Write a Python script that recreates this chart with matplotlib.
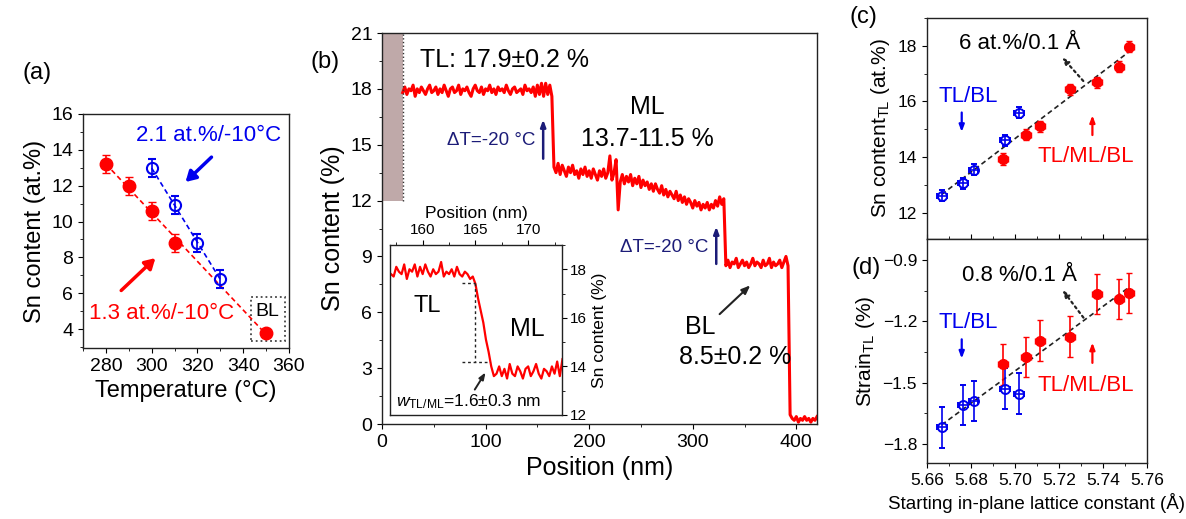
import matplotlib.pyplot as plt
import numpy as np
from matplotlib.patches import Rectangle
from matplotlib.ticker import MultipleLocator

plt.rcParams['font.family'] = ['Liberation Sans', 'DejaVu Sans']
plt.rcParams['mathtext.fontset'] = 'custom'
plt.rcParams['mathtext.rm'] = 'Liberation Sans'
plt.rcParams['mathtext.it'] = 'Liberation Sans:italic'
plt.rcParams['xtick.labelsize'] = 13
plt.rcParams['ytick.labelsize'] = 13

# ---- panel (a): Sn content vs growth temperature
temp_red = [280, 290, 300, 310, 350]
sn_red = [13.2, 12.0, 10.6, 8.8, 3.8]
err_red = [0.5, 0.5, 0.5, 0.5, 0.0]
temp_blue = [300, 310, 320, 330]
sn_blue = [13.0, 10.9, 8.8, 6.8]
err_blue = [0.5, 0.5, 0.5, 0.5]

# ---- panel (b): EDX line profile (2 nm steps per segment)
tl_vals = [17.8, 18.1, 17.7, 18.0, 17.9, 18.2, 17.6, 18.0, 17.8, 18.1, 17.9, 17.7, 18.0, 18.2,
           17.8, 17.9, 18.1, 17.7, 18.0, 17.8, 18.2, 17.9, 17.6, 18.0, 18.1, 17.8, 17.9, 18.2,
           17.7, 18.0, 17.9, 18.1, 17.8, 17.6, 18.0, 18.2, 17.9, 17.8, 18.1, 17.7, 18.0, 17.9,
           18.2, 17.8, 18.0, 17.7, 18.1, 17.9, 18.0, 17.8, 18.2, 17.9, 17.7, 18.0, 18.1, 17.8,
           17.9, 18.0, 17.7, 18.2, 17.9, 18.0, 17.8, 18.1, 17.6, 18.2, 17.7, 18.3, 17.6, 18.3,
           17.7, 18.2, 17.6]
ml_vals = [13.8, 13.5, 14.0, 13.4, 13.9, 13.6, 13.3, 13.8, 13.5, 13.9, 13.4, 13.6, 13.2, 13.7,
           13.4, 13.8, 13.3, 13.6, 13.2, 13.7, 13.4, 13.1, 13.6, 13.3, 13.7, 13.2, 13.5, 14.4,
           13.1, 13.5, 14.2, 11.5, 13.0, 13.4, 12.9, 13.3, 13.0, 13.4, 12.8, 13.2, 12.9, 13.3,
           12.7, 13.1, 12.8, 13.0, 12.6, 12.9, 12.5, 12.9, 12.6, 12.4, 12.8, 12.3, 12.6, 12.2,
           12.5, 12.3, 12.1, 12.5, 12.0, 12.3, 11.9, 12.2, 11.8, 12.1, 11.9, 11.6, 12.0, 11.7,
           11.9, 11.5, 11.8, 11.6, 11.9, 11.5, 11.8, 11.6, 12.0, 11.7, 12.2, 11.8, 12.1]
bl_vals = [8.5, 8.8, 8.4, 8.7, 8.6, 8.9, 8.4, 8.6, 8.8, 8.5, 8.7, 8.4, 8.6, 8.9, 8.5, 8.7,
           8.6, 8.4, 8.8, 8.5, 8.6, 8.9, 8.4, 8.7, 8.5, 8.6, 8.8, 8.4, 8.7, 9.0, 8.5]
sub_vals = [0.5, 0.3, 0.2, 0.4, 0.1, 0.3, 0.2, 0.4, 0.2, 0.3, 0.1, 0.3, 0.2, 0.4]
seg_start = [20, 166, 332, 394]

# inset: zoom on the TL/ML interface (0.25 nm steps from 157 nm)
inset_vals = [17.8, 17.7, 18.1, 17.9, 17.8, 18.2, 17.6, 18.0, 17.9, 18.2, 17.7, 18.1, 17.8, 18.2,
              17.9, 17.7, 18.0, 17.8, 17.9, 18.3, 17.7, 17.9, 17.8, 18.0, 17.7, 18.1, 17.8, 17.7,
              17.9, 17.8, 17.6, 17.7,
              17.4, 16.8, 16.3, 15.8, 15.1, 14.6, 14.0, 13.6,
              13.7, 14.0, 13.6, 13.9, 13.5, 14.1, 13.7, 13.6, 14.0, 13.8, 13.5, 13.9, 14.0, 13.6,
              13.8, 14.1, 13.7, 13.5, 13.9, 13.8, 13.6, 14.0, 13.7, 14.2, 13.6, 14.3]

# ---- panels (c), (d)
a_blue = [5.6668, 5.6764, 5.6813, 5.6956, 5.7018]
sn_tl_blue = [12.6, 13.05, 13.55, 14.6, 15.6]
strain_blue = [-1.72, -1.61, -1.59, -1.53, -1.555]
a_red = [5.6946, 5.7051, 5.7115, 5.7250, 5.7373, 5.7476, 5.7521]
sn_tl_red = [13.93, 14.8, 15.1, 16.44, 16.69, 17.25, 17.97]
strain_red = [-1.41, -1.375, -1.295, -1.275, -1.065, -1.09, -1.06]
a_err = 0.0022

RED = '#ff0000'
BLUE = '#0000ee'
NAVY = '#1c1c78'

fig = plt.figure(figsize=(11.86, 5.19), dpi=100)


def box(ax):
    for s in ax.spines.values():
        s.set_linewidth(1.0)
        s.set_color('#222222')


# ================= (a)
ax = fig.add_axes([0.070, 0.3295, 0.1737, 0.4509])
box(ax)
p = np.polyfit(temp_red, sn_red, 1)
xs = np.array([min(temp_red), max(temp_red)])
ax.plot(xs, np.polyval(p, xs), ls=(0, (3, 2)), color=RED, lw=1.2)
p = np.polyfit(temp_blue, sn_blue, 1)
xs = np.array([min(temp_blue), max(temp_blue)])
ax.plot(xs, np.polyval(p, xs), ls=(0, (3, 2)), color=BLUE, lw=1.2)
ax.errorbar(temp_red, sn_red, yerr=err_red, fmt='o', color=RED, ms=9, capsize=3, elinewidth=1.2, zorder=3)
ax.errorbar(temp_blue, sn_blue, yerr=err_blue, fmt='o', color=BLUE, mfc='none', mew=1.5, ms=8,
            capsize=3, elinewidth=1.2, zorder=3)
ax.add_patch(Rectangle((343.2, 3.32), 15.0, 2.46, fill=False, ls=':', lw=1.3, ec='#444444'))
ax.text(350.7, 5.0, 'BL', ha='center', va='center', fontsize=14)
ax.text(324.8, 14.8, '2.1 at.%/-10°C', color=BLUE, ha='center', va='center', fontsize=16)
ax.annotate('', xy=(313.9, 12.1), xytext=(327, 13.7),
            arrowprops=dict(arrowstyle='-|>,head_length=0.6,head_width=0.35', color=BLUE, lw=2.5))
ax.text(304.2, 4.9, '1.3 at.%/-10°C', color=RED, ha='center', va='center', fontsize=16)
ax.annotate('', xy=(302.5, 8.07), xytext=(285.8, 6.05),
            arrowprops=dict(arrowstyle='-|>,head_length=0.6,head_width=0.35', color=RED, lw=2.5))
ax.set_xlim(270, 360)
ax.set_ylim(2.95, 16)
ax.xaxis.set_major_locator(MultipleLocator(20))
ax.xaxis.set_minor_locator(MultipleLocator(10))
ax.yaxis.set_major_locator(MultipleLocator(2))
ax.yaxis.set_minor_locator(MultipleLocator(1))
ax.tick_params(labelsize=14)
ax.set_xlabel('Temperature (°C)', fontsize=17)
ax.set_ylabel('Sn content (at.%)', fontsize=17)

# ================= (b)
ax = fig.add_axes([0.3221, 0.183, 0.3668, 0.7534])
box(ax)
segs = [tl_vals, ml_vals, bl_vals, sub_vals]
pos = np.concatenate([s0 + 2 * np.arange(len(v)) for s0, v in zip(seg_start, segs)])
val = np.concatenate(segs)
ax.plot(pos, val, color=RED, lw=2.2)
ax.add_patch(Rectangle((0, 12), 20, 9, color='#bfa9a9', lw=0, zorder=0))
ax.plot([20, 20], [12, 21], ls=':', color='#333333', lw=1)
ax.text(37, 19.55, 'TL: 17.9±0.2 %', ha='left', va='center', fontsize=18)
ax.text(256, 17.0, 'ML', ha='center', va='center', fontsize=18)
ax.text(256, 15.3, '13.7-11.5 %', ha='center', va='center', fontsize=18)
ax.text(148, 15.25, 'ΔT=-20 °C', color=NAVY, ha='right', va='center', fontsize=13.5)
ax.annotate('', xy=(155.6, 16.5), xytext=(155.6, 14.1),
            arrowprops=dict(arrowstyle='-|>,head_length=0.4,head_width=0.15', color=NAVY, lw=1.8))
ax.text(315, 9.5, 'ΔT=-20 °C', color=NAVY, ha='right', va='center', fontsize=13.5)
ax.annotate('', xy=(322.7, 10.75), xytext=(322.7, 8.45),
            arrowprops=dict(arrowstyle='-|>,head_length=0.4,head_width=0.15', color=NAVY, lw=1.8))
ax.text(307, 5.2, 'BL', ha='center', va='center', fontsize=18)
ax.text(341, 3.6, '8.5±0.2 %', ha='center', va='center', fontsize=18)
ax.annotate('', xy=(357.5, 7.55), xytext=(324, 5.8),
            arrowprops=dict(arrowstyle='-|>,head_length=0.5,head_width=0.2', color='#222222', lw=1.5))
ax.set_xlim(0, 420)
ax.set_ylim(0, 21)
ax.xaxis.set_major_locator(MultipleLocator(100))
ax.xaxis.set_minor_locator(MultipleLocator(50))
ax.yaxis.set_major_locator(MultipleLocator(3))
ax.yaxis.set_minor_locator(MultipleLocator(1.5))
ax.tick_params(labelsize=14)
ax.set_xlabel('Position (nm)', fontsize=18)
ax.set_ylabel('Sn content (%)', fontsize=18)

# inset
ai = fig.add_axes([0.3288, 0.2004, 0.145, 0.3276])
box(ai)
ai.set_facecolor('white')
ipos = 157 + 0.25 * np.arange(len(inset_vals))
ai.plot(ipos, inset_vals, color=RED, lw=1.6)
ai.plot([163.7, 165.0], [17.45, 17.45], ls=(0, (2, 2)), color='#222222', lw=1)
ai.plot([165.0, 165.0], [17.45, 14.2], ls=(0, (2, 2)), color='#222222', lw=1)
ai.plot([163.7, 166.4], [14.2, 14.2], ls=(0, (2, 2)), color='#222222', lw=1)
ai.annotate('', xy=(166.1, 13.85), xytext=(164.8, 12.95),
            arrowprops=dict(arrowstyle='-|>,head_length=0.4,head_width=0.15', color='#222222', lw=1.4))
ai.text(160.4, 16.5, 'TL', ha='center', va='center', fontsize=17)
ai.text(169.9, 15.55, 'ML', ha='center', va='center', fontsize=18)
ai.text(157.5, 12.55, r'$w_{\rm TL/ML}$=1.6±0.3 nm', ha='left', va='center', fontsize=12.5)
ai.set_xlim(156.9, 173.2)
ai.set_ylim(12, 19)
ai.xaxis.tick_top()
ai.xaxis.set_label_position('top')
ai.yaxis.tick_right()
ai.yaxis.set_label_position('right')
ai.xaxis.set_major_locator(MultipleLocator(5))
ai.xaxis.set_minor_locator(MultipleLocator(2.5))
ai.yaxis.set_major_locator(MultipleLocator(2))
ai.yaxis.set_minor_locator(MultipleLocator(1))
ai.tick_params(labelsize=11, pad=2)
ai.set_xlabel('Position (nm)', fontsize=12.5, labelpad=4)
ai.set_ylabel('Sn content (%)', fontsize=12.5, labelpad=4)

# ================= (c)
a_all = np.array(a_blue + a_red)
xs = np.array([a_all.min(), a_all.max()])

ac = fig.add_axes([0.7814, 0.5395, 0.1855, 0.4258])
box(ac)
p = np.polyfit(a_all, sn_tl_blue + sn_tl_red, 1)
ac.plot(xs, np.polyval(p, xs), ls=(0, (3, 2)), color='#222222', lw=1.2)
ac.errorbar(a_red, sn_tl_red, xerr=a_err, yerr=0.2, fmt='o', color=RED, ms=7, capsize=2.5, elinewidth=1.2, zorder=3)
ac.errorbar(a_blue, sn_tl_blue, xerr=a_err, yerr=0.2, fmt='o', color=BLUE, mfc='none', mew=1.4, ms=6.5,
            capsize=2.5, elinewidth=1.2, zorder=3)
ac.text(5.702, 18.1, '6 at.%/0.1 Å', ha='center', va='center', fontsize=16)
ac.annotate('', xy=(5.7206, 17.67), xytext=(5.732, 16.66),
            arrowprops=dict(arrowstyle='-|>,head_length=0.4,head_width=0.15', color='#222222', lw=1.6, ls=':'))
ac.text(5.6788, 16.18, 'TL/BL', color=BLUE, ha='center', va='center', fontsize=16)
ac.annotate('', xy=(5.6759, 14.8), xytext=(5.6759, 15.7),
            arrowprops=dict(arrowstyle='-|>,head_length=0.4,head_width=0.15', color=BLUE, lw=1.6))
ac.text(5.7323, 14.03, 'TL/ML/BL', color=RED, ha='center', va='center', fontsize=16)
ac.annotate('', xy=(5.7353, 15.6), xytext=(5.7353, 14.69),
            arrowprops=dict(arrowstyle='-|>,head_length=0.4,head_width=0.15', color=RED, lw=1.6))
ac.set_xlim(5.66, 5.76)
ac.set_ylim(11.05, 19)
ac.xaxis.set_major_locator(MultipleLocator(0.02))
ac.xaxis.set_minor_locator(MultipleLocator(0.01))
ac.yaxis.set_major_locator(MultipleLocator(2))
ac.yaxis.set_minor_locator(MultipleLocator(1))
ac.tick_params(axis='x', which='both', direction='in', labelbottom=False)
ac.tick_params(axis='y', labelsize=12.5)
ac.set_ylabel(r'Sn content$_{\rm TL}$ (at.%)', fontsize=15)

# ================= (d)
ad = fig.add_axes([0.7814, 0.1079, 0.1855, 0.4316])
box(ad)
p = np.polyfit(a_all, strain_blue + strain_red, 1)
ad.plot(xs, np.polyval(p, xs), ls=(0, (3, 2)), color='#222222', lw=1.2)
ad.errorbar(a_red, strain_red, xerr=a_err, yerr=0.1, fmt='o', color=RED, ms=7, capsize=2.5, elinewidth=1.2, zorder=3)
ad.errorbar(a_blue, strain_blue, xerr=a_err, yerr=0.1, fmt='o', color=BLUE, mfc='none', mew=1.4, ms=6.5,
            capsize=2.5, elinewidth=1.2, zorder=3)
ad.text(5.702, -0.974, '0.8 %/0.1 Å', ha='center', va='center', fontsize=16)
ad.annotate('', xy=(5.7209, -1.034), xytext=(5.732, -1.192),
            arrowprops=dict(arrowstyle='-|>,head_length=0.4,head_width=0.15', color='#222222', lw=1.6, ls=':'))
ad.text(5.6788, -1.204, 'TL/BL', color=BLUE, ha='center', va='center', fontsize=16)
ad.annotate('', xy=(5.6759, -1.396), xytext=(5.6759, -1.274),
            arrowprops=dict(arrowstyle='-|>,head_length=0.4,head_width=0.15', color=BLUE, lw=1.6))
ad.text(5.7323, -1.516, 'TL/ML/BL', color=RED, ha='center', va='center', fontsize=16)
ad.annotate('', xy=(5.7353, -1.29), xytext=(5.7353, -1.417),
            arrowprops=dict(arrowstyle='-|>,head_length=0.4,head_width=0.15', color=RED, lw=1.6))
ad.set_xlim(5.66, 5.76)
ad.set_ylim(-1.895, -0.795)
ad.xaxis.set_major_locator(MultipleLocator(0.02))
ad.xaxis.set_minor_locator(MultipleLocator(0.01))
ad.yaxis.set_major_locator(MultipleLocator(0.3))
ad.yaxis.set_minor_locator(MultipleLocator(0.15))
ad.tick_params(labelsize=12.5)
ad.set_xlabel('Starting in-plane lattice constant (Å)', fontsize=13.5)
ad.set_ylabel(r'Strain$_{\rm TL}$ (%)', fontsize=15)

# panel letters
fig.text(0.0186, 0.859, '(a)', fontsize=17, va='center')
fig.text(0.262, 0.880, '(b)', fontsize=17, va='center')
fig.text(0.716, 0.967, '(c)', fontsize=17, va='center')
fig.text(0.718, 0.484, '(d)', fontsize=17, va='center')

fig.savefig('out.png', dpi=100)
